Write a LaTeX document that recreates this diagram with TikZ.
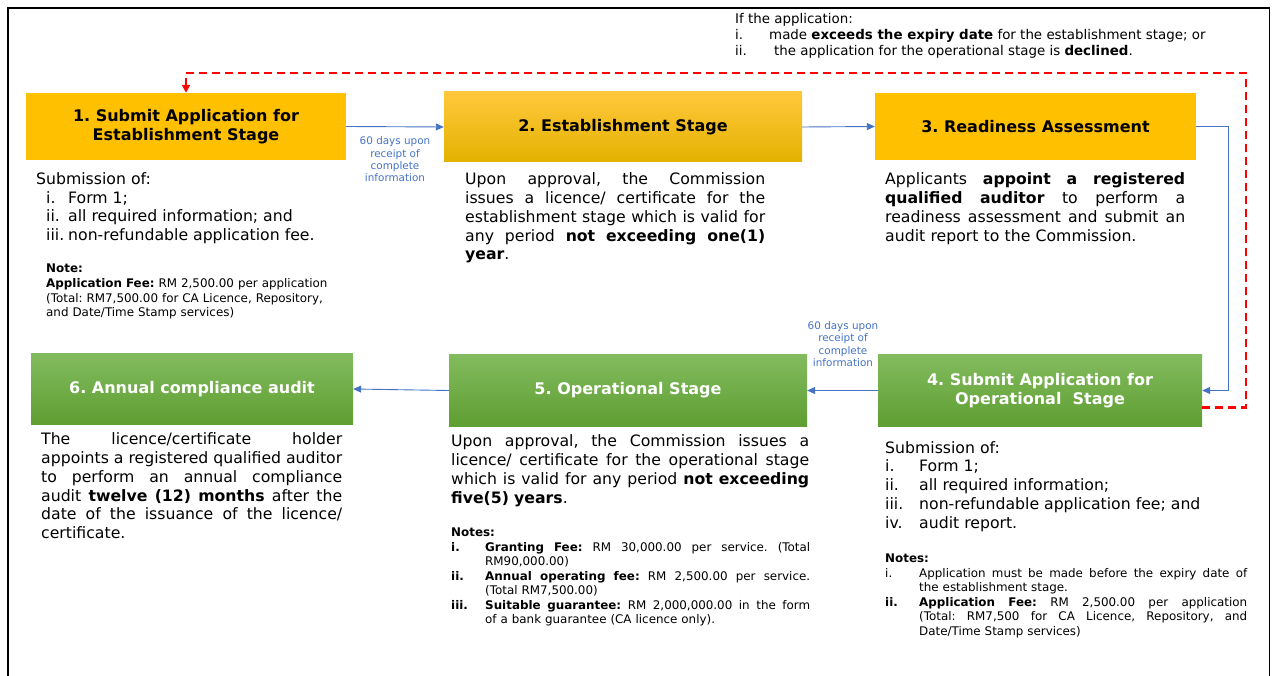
\documentclass[tikz,border=0pt]{standalone}
\usepackage{fontspec}
\setmainfont{DejaVu Sans}
\usetikzlibrary{arrows.meta,positioning}
\definecolor{stageyellow}{HTML}{FFC000}
\definecolor{goldtop}{HTML}{FFC83C}
\definecolor{goldbot}{HTML}{E2B200}
\definecolor{greentop}{HTML}{82BB5E}
\definecolor{greenbot}{HTML}{5F9E32}
\definecolor{flowblue}{HTML}{4472C4}
\definecolor{loopred}{HTML}{FF0000}
\frenchspacing
\newcommand{\bodyfont}{\fontsize{15.7}{18.8}\selectfont}
\newcommand{\notefont}{\fontsize{11.9}{14.6}\selectfont}
\newdimen\jw
\newcommand{\jl}[1]{\leavevmode\hbox to \jw{\spaceskip=0.318em plus 1fil minus 0.12em\relax #1}}
\tikzset{
  stagebox/.style={inner sep=0pt, align=center, font=\bfseries\fontsize{16}{19}\selectfont},
  ystage/.style={stagebox, fill=stageyellow},
  gold/.style={stagebox, top color=goldtop, bottom color=goldbot},
  green/.style={stagebox, text=white, top color=greentop, bottom color=greenbot},
  flow/.style={draw=flowblue, line width=0.9pt, -{Triangle[length=8pt,width=7pt]}},
  dayslabel/.style={text=flowblue, font=\fontsize{10.4}{12.4}\selectfont, align=center, inner sep=0pt},
  bodyline/.style={anchor=base west, inner sep=0pt, font=\bodyfont},
  bodypar/.style={anchor=north west, inner sep=0pt, align=left, font=\bodyfont, text width=#1, execute at begin node={\jw=#1\relax}},
  noteline/.style={anchor=base west, inner sep=0pt, font=\notefont},
  notepar/.style={anchor=north west, inner sep=0pt, align=left, font=\notefont, text width=#1, execute at begin node={\jw=#1\relax}},
  iftext/.style={anchor=base west, inner sep=0pt, font=\fontsize{13.4}{16}\selectfont},
  redloop/.style={draw=loopred, line width=2.2pt, dash pattern=on 8pt off 5pt, -{Triangle[length=8pt,width=8pt]}},
}
\begin{document}
\begin{tikzpicture}[x=1pt,y=-1pt]
\useasboundingbox (0,0) rectangle (1272,676);
% frame
\draw[line width=2.5pt] (8,676) -- (8,8);
\draw[line width=1.5pt] (7,8) -- (1270,8);
\draw[line width=1.2pt] (1269.5,8) -- (1269.5,676);

% stages
\node[ystage, minimum width=320pt, minimum height=67pt] (b1) at (186,126.5) {1. Submit Application for\\Establishment Stage};
\node[gold, minimum width=358pt, minimum height=70pt] (b2) at (623,127) {2. Establishment Stage};
\node[ystage, minimum width=321pt, minimum height=67pt] (b3) at (1035.5,126.5) {3. Readiness Assessment};
\node[green, minimum width=324pt, minimum height=71pt] (b4) at (1040,390.5) {4. Submit Application for\\Operational\ \ Stage};
\node[green, minimum width=358pt, minimum height=71pt] (b5) at (628,390.5) {5. Operational Stage};
\node[green, minimum width=322pt, minimum height=70pt] (b6) at (192,389) {6. Annual compliance audit};

% connectors
\draw[flow] (b1.east) -- (b2.west);
\draw[flow] (b2.east) -- (b3.west);
\draw[flow] (b3.east) -- ++(32,0) |- (b4.east);
\draw[flow] (b4.west) -- (b5.east);
\draw[flow] (b5.west) -- (b6.east);
\node[dayslabel] (d1) at (395,159.5) {60 days upon\\receipt of\\complete\\information};
\node[dayslabel] (d2) at (843,344) {60 days upon\\receipt of\\complete\\information};

% going back to stage 1
\coordinate (rc) at (1246,73);
\draw[redloop] ([yshift=-17pt]b4.east) -| (rc) -| (b1.north);
\node[iftext] (if) at (735,24) {If the application:};
\node[iftext] (ifa) at (735,40) {i.};
\node[iftext] (ifat) at (769,40) {made \textbf{exceeds the expiry date} for the establishment stage; or};
\node[iftext] (ifb) at (735,56) {ii.};
\node[iftext] (ifbt) at (774,56) {the application for the operational stage is \textbf{declined}.};

% stage 1 text
\node[bodyline] (s1) at (36,184.5) {Submission of:};
\node[bodyline] (s1a) at (46,203.5) {i.};
\node[bodyline] (s1at) at (68,203.5) {Form 1;};
\node[bodyline] (s1b) at (46,221.5) {ii.};
\node[bodyline] (s1bt) at (68,221.5) {all required information; and};
\node[bodyline] (s1c) at (46,240.5) {iii.};
\node[bodyline] (s1ct) at (68,240.5) {non-refundable application fee.};
\node[notepar=300pt] (n1) at (46,264) {\textbf{Note:}\\\textbf{Application Fee:} RM 2,500.00 per application\\(Total: RM7,500.00 for CA Licence, Repository,\\and Date/Time Stamp services)};

% stage 2 and 3 text
\node[bodypar=300pt] (p2) at (465,172.5) {\jl{Upon approval, the Commission}\\\jl{issues a licence/ certificate for the}\\\jl{establishment stage which is valid for}\\\jl{any period \textbf{not exceeding one(1)}}\\\textbf{year}.};
\node[bodypar=300pt] (p3) at (885,172.5) {\jl{Applicants \textbf{appoint a registered}}\\\jl{\textbf{qualified auditor} to perform a}\\\jl{readiness assessment and submit an}\\audit report to the Commission.};

% stage 4 text
\node[bodyline] (s4) at (885,453) {Submission of:};
\node[bodyline] (s4a) at (885,471.5) {i.};
\node[bodyline] (s4at) at (919,471.5) {Form 1;};
\node[bodyline] (s4b) at (885,490.5) {ii.};
\node[bodyline] (s4bt) at (919,490.5) {all required information;};
\node[bodyline] (s4c) at (885,509.5) {iii.};
\node[bodyline] (s4ct) at (919,509.5) {non-refundable application fee; and};
\node[bodyline] (s4d) at (885,528.5) {iv.};
\node[bodyline] (s4dt) at (919,528.5) {audit report.};
\node[noteline] (n4) at (885,562) {\textbf{Notes:}};
\node[noteline] (n4a) at (885,577) {i.};
\node[notepar=328pt] (n4at) at (919,568) {\jl{Application must be made before the expiry date of}\\the establishment stage.};
\node[noteline] (n4b) at (885,606) {\textbf{ii.}};
\node[notepar=328pt] (n4bt) at (919,597) {\jl{\textbf{Application Fee:} RM 2,500.00 per application}\\\jl{(Total: RM7,500 for CA Licence, Repository, and}\\Date/Time Stamp services)};

% stage 5 text
\node[bodypar=358pt] (p5) at (451,434.5) {\jl{Upon approval, the Commission issues a}\\\jl{licence/ certificate for the operational stage}\\\jl{which is valid for any period \textbf{not exceeding}}\\\textbf{five(5) years}.};
\node[noteline] (n5) at (451,536) {\textbf{Notes:}};
\node[noteline] (n5a) at (451,551) {\textbf{i.}};
\node[notepar=325pt] (n5at) at (485,542) {\jl{\textbf{Granting Fee:} RM 30,000.00 per service. (Total}\\RM90,000.00)};
\node[noteline] (n5b) at (451,580) {\textbf{ii.}};
\node[notepar=325pt] (n5bt) at (485,571) {\jl{\textbf{Annual operating fee:} RM 2,500.00 per service.}\\(Total RM7,500.00)};
\node[noteline] (n5c) at (451,609) {\textbf{iii.}};
\node[notepar=325pt] (n5ct) at (485,600) {\jl{\textbf{Suitable guarantee:} RM 2,000,000.00 in the form}\\of a bank guarantee (CA licence only).};

% stage 6 text
\node[bodypar=301pt] (p6) at (41,432.5) {\jl{The licence/certificate holder}\\\jl{appoints a registered qualified auditor}\\\jl{to perform an annual compliance}\\\jl{audit \textbf{twelve (12) months} after the}\\\jl{date of the issuance of the licence/}\\certificate.};
\end{tikzpicture}
\end{document}
